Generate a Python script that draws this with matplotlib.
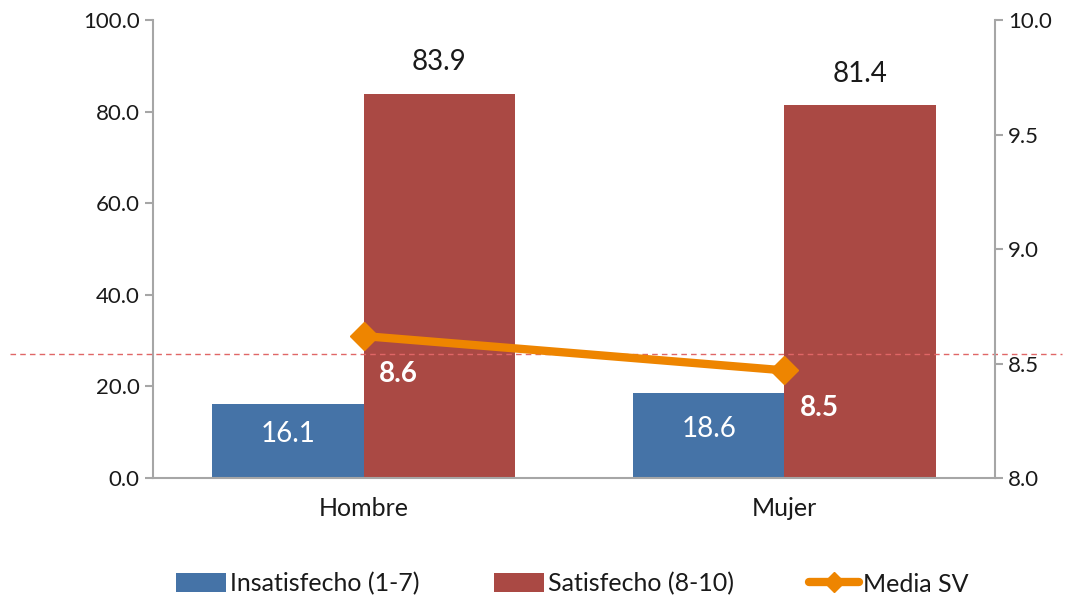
import numpy as np
import matplotlib.pyplot as plt

plt.rcParams['font.family'] = ['Lato', 'DejaVu Sans']

# data
categories = ['Hombre', 'Mujer']
insatisfecho = [16.1, 18.6]
satisfecho = [83.9, 81.4]
media_sv = [8.62, 8.47]
media_labels = ['8.6', '8.5']
ref_line = 8.54

blue = '#4573A7'
red = '#AA4944'
orange = '#EE8500'
gray = '#A6A6A6'
txt = '#1A1A1A'

fig = plt.figure(figsize=(10.67, 6.06), dpi=100)
ax = fig.add_axes([0.1434, 0.2112, 0.7891, 0.7558])
ax2 = ax.twinx()

x = np.arange(len(categories))
w = 0.36
b1 = ax.bar(x - w / 2, insatisfecho, w, color=blue, label='Insatisfecho (1-7)')
b2 = ax.bar(x + w / 2, satisfecho, w, color=red, label='Satisfecho (8-10)')

for xi, v in zip(x, insatisfecho):
    ax.text(xi - w / 2, v / 2 + 1.5, f'{v:.1f}', ha='center', va='center',
            color='white', fontsize=20)
for xi, v in zip(x, satisfecho):
    ax.text(xi + w / 2, v + 4, f'{v:.1f}', ha='center', va='bottom',
            color=txt, fontsize=20)

ax.set_xlim(-0.5, 1.5)
ax.set_ylim(0, 100)
ax.set_yticks(np.arange(0, 101, 20))
ax.set_yticklabels([f'{t:.1f}' for t in np.arange(0, 101, 20)])
ax.set_xticks(x)
ax.set_xticklabels(categories)

ax2.set_ylim(8.0, 10.0)
ax2.set_yticks(np.arange(8.0, 10.01, 0.5))
ax2.set_yticklabels([f'{t:.1f}' for t in np.arange(8.0, 10.01, 0.5)])

line, = ax2.plot(x, media_sv, color=orange, lw=6, marker='D', ms=14,
                 solid_capstyle='round', label='Media SV', zorder=5)
for xi, v, lab in zip(x, media_sv, media_labels):
    ax2.annotate(lab, (xi, v), xytext=(25, -27), textcoords='offset points',
                 ha='center', va='center', color='white', fontsize=20,
                 fontweight='bold', zorder=6)

ax2.axhline(ref_line, xmin=-0.17, xmax=1.08, color='#E06666', lw=1,
            ls=(0, (4, 3)), clip_on=False, zorder=1)

for a in (ax, ax2):
    a.spines['top'].set_visible(False)
    for s in ('left', 'right', 'bottom'):
        a.spines[s].set_color(gray)
        a.spines[s].set_linewidth(1.5)
    a.tick_params(axis='y', color=gray, length=6, width=1.5, direction='out')
    a.tick_params(axis='y', labelcolor=txt, labelsize=16)
ax.tick_params(axis='x', length=0, labelsize=18, labelcolor=txt, pad=14)
ax.spines['right'].set_visible(False)
ax2.spines['left'].set_visible(False)
ax2.spines['bottom'].set_visible(False)

leg = fig.legend(handles=[b1, b2, line], loc='lower center',
                 bbox_to_anchor=(0.536, -0.02), ncol=3, frameon=False,
                 fontsize=18, handlelength=2.0, handleheight=0.8,
                 handletextpad=0.15, columnspacing=3.0, markerscale=0.7)
for t in leg.get_texts():
    t.set_color(txt)

fig.savefig('out.png', dpi=100)
